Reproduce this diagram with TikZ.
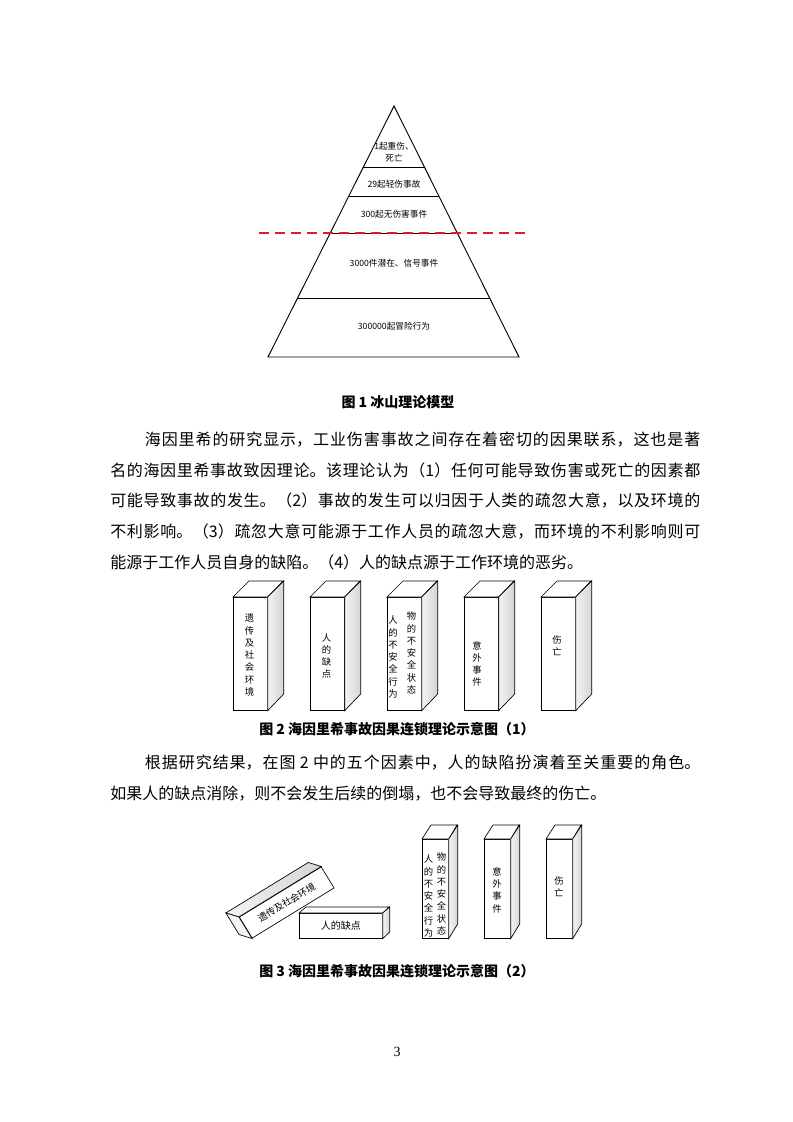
\documentclass[tikz,border=0pt]{standalone}
\usepackage{fontspec}
\setmainfont{Liberation Serif}
\newfontfamily\cjk{Noto Sans CJK SC}
\usetikzlibrary{calc}
\XeTeXlinebreaklocale "zh"
\XeTeXlinebreakskip=0pt plus 2pt
\definecolor{cHongXian}{HTML}{D42222}
\definecolor{cHuiShen}{HTML}{D4D4D4}
\definecolor{cHuiQian}{HTML}{F4F4F4}
% nhan kim tu thap
\def\Lsiwang{1起重伤、\\死亡}
\def\Lqingshang{29起轻伤事故}
\def\Lwushang{300起无伤害事件}
\def\Lqianzai{3000件潜在、信号事件}
\def\Lmaoxian{300000起冒险行为}
% chu tren quan bai
\def\Lyichuan{遗\\传\\及\\社\\会\\环\\境}
\def\Lquedian{人\\的\\缺\\点}
\def\Lrenxing{人\\的\\不\\安\\全\\行\\为}
\def\Lwuzhuang{物\\的\\不\\安\\全\\状\\态}
\def\Lyiwai{意\\外\\事\\件}
\def\Lshangwang{伤\\亡}
\def\LyichuanH{遗传及社会环境}
\def\LquedianH{人的缺点}

\begin{document}
\begin{tikzpicture}[
  x=0.75pt, y=-0.75pt,
  chuzi/.style={font=\cjk\fontsize{6.5pt}{8.5pt}\selectfont, align=center, inner sep=0pt},
  paizi/.style={font=\cjk\fontsize{7pt}{9.2pt}\selectfont, align=center, inner sep=0pt},
  mianqian/.style={draw, fill=white, line width=0.5pt, inner sep=0pt},
  mianbian/.style={draw, line width=0.5pt, left color=cHuiQian, right color=cHuiShen},
  timing/.style={font=\cjk\bfseries\fontsize{10.5pt}{12pt}\selectfont, inner sep=0pt},
  zhengwen/.style={font=\cjk\fontsize{12pt}{22.9pt}\selectfont, text width=442.5pt,
    align=justify, inner sep=0pt}
]
\fill[white] (0,0) rectangle (793,1122);
\useasboundingbox (0,0) rectangle (793,1122);

% ── Hinh 1: kim tu thap (toa do theo pixel cua trang) ──
\coordinate (dingA) at (394,106);
\coordinate (diZuo) at (268,357);
\coordinate (diYou) at (519,357);
\draw[line width=0.7pt] (dingA) -- (diZuo) -- (diYou) -- cycle;
\foreach \t in {0.243,0.359,0.506,0.765}
  \draw[line width=0.7pt] ($(dingA)!\t!(diZuo)$) -- ($(dingA)!\t!(diYou)$);

% duong do net dut cat ngang o tang 300
\coordinate (hongZ) at (259,232.5);
\coordinate (hongY) at (527,232.5);
\draw[cHongXian, line width=1.5pt, dash pattern=on 7.5pt off 4.5pt] (hongZ) -- (hongY);

\node[chuzi] (ceng1) at (394,152) {\Lsiwang};
\node[chuzi] (ceng2) at (394,184) {\Lqingshang};
\node[chuzi] (ceng3) at (394,214) {\Lwushang};
\node[chuzi] (ceng4) at (394,263) {\Lqianzai};
\node[chuzi] (ceng5) at (394,326) {\Lmaoxian};

\node[timing] (tu1) at (398,402) {图 1 冰山理论模型};

% ── Doan van 1 ──
\node[zhengwen, anchor=north west] (duan1) at (110,432) {%
\hspace*{26pt}海因里希的研究显示，工业伤害事故之间存在着密切的因果联系，这也是著\linebreak
名的海因里希事故致因理论。该理论认为（1）任何可能导致伤害或死亡的因素都\linebreak
可能导致事故的发生。（2）事故的发生可以归因于人类的疏忽大意，以及环境的\linebreak
不利影响。（3）疏忽大意可能源于工作人员的疏忽大意，而环境的不利影响则可\linebreak
能源于工作人员自身的缺陷。（4）人的缺点源于工作环境的恶劣。};

% ── Hinh 2: nam quan bai dung thang ──
\foreach \i/\x in {1/233,2/310,3/387,4/464,5/541} {
  \node[mianqian, minimum width=25.5pt, minimum height=84.75pt, anchor=north west]
    (paiA\i) at (\x,597) {};
  \draw[line width=0.5pt, fill=white] (paiA\i.north west) -- ++(16,-16) -- ++(34,0)
    -- (paiA\i.north east) -- cycle;
  \path[mianbian] (paiA\i.north east) -- ++(16,-16) -- ++(0,113)
    -- (paiA\i.south east) -- cycle;
}
\node[paizi] (wA1) at (249.5,655) {\Lyichuan};
\node[paizi] (wA2) at (326.5,656) {\Lquedian};
\node[paizi] (wA3a) at (393,657) {\Lrenxing};
\node[paizi] (wA3b) at (411.5,653) {\Lwuzhuang};
\node[paizi] (wA4) at (477,664) {\Lyiwai};
\node[paizi] (wA5) at (557,646) {\Lshangwang};

\node[timing] (tu2) at (397,729) {图 2 海因里希事故因果连锁理论示意图（1）};

% ── Doan van 2 ──
\node[zhengwen, anchor=north west] (duan2) at (110,755) {%
\hspace*{26pt}根据研究结果，在图 2 中的五个因素中，人的缺陷扮演着至关重要的角色。\linebreak
如果人的缺点消除，则不会发生后续的倒塌，也不会导致最终的伤亡。};

% ── Hinh 3: quan bai nghieng, quan bai nam va ba quan bai dung ──
\node[mianqian, rotate=31.5, minimum width=72pt, minimum height=18.5pt,
  font=\cjk\fontsize{7pt}{9pt}\selectfont] (xieA) at (286.7,902.5) {\LyichuanH};
\path[mianbian] (xieA.north west) -- (xieA.north east) -- ++(-13,-4)
  -- ($(xieA.north west)+(-13,-4)$) -- cycle;
\draw[line width=0.5pt, fill=cHuiQian] (xieA.north west) -- (xieA.south west) -- ++(-13,-4)
  -- ($(xieA.north west)+(-13,-4)$) -- cycle;

\node[mianqian, minimum width=62.25pt, minimum height=18.75pt, anchor=north west,
  font=\cjk\fontsize{7.5pt}{9pt}\selectfont] (tangB) at (299,913) {\LquedianH};
\draw[line width=0.5pt, fill=white] (tangB.north west) -- ++(7,-6) -- ++(83,0)
  -- (tangB.north east) -- cycle;
\path[mianbian] (tangB.north east) -- ++(7,-6) -- ++(0,25) -- (tangB.south east) -- cycle;

\foreach \i/\x in {1/422,2/484,3/546} {
  \node[mianqian, minimum width=19.5pt, minimum height=74.25pt, anchor=north west]
    (paiC\i) at (\x,839) {};
  \draw[line width=0.5pt, fill=white] (paiC\i.north west) -- ++(9,-14) -- ++(26,0)
    -- (paiC\i.north east) -- cycle;
  \path[mianbian] (paiC\i.north east) -- ++(9,-14) -- ++(0,99)
    -- (paiC\i.south east) -- cycle;
}
\node[paizi] (wC1a) at (428.5,896) {\Lrenxing};
\node[paizi] (wC1b) at (441.5,894) {\Lwuzhuang};
\node[paizi] (wC2) at (497,890) {\Lyiwai};
\node[paizi] (wC3) at (559,887) {\Lshangwang};

\node[timing] (tu3) at (397,971) {图 3 海因里希事故因果连锁理论示意图（2）};

\node[font=\fontsize{10.5pt}{12pt}\selectfont, inner sep=0pt] (yema) at (397,1052) {3};
\end{tikzpicture}
\end{document}
